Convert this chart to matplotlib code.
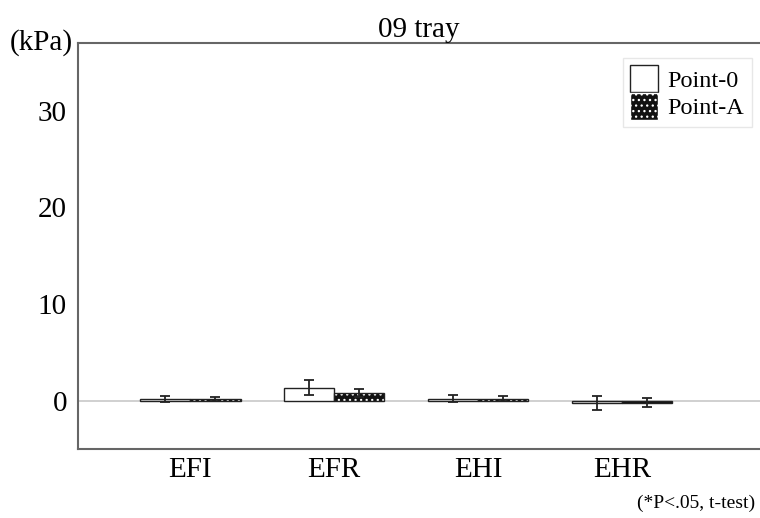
import matplotlib.pyplot as plt
from matplotlib.patches import Patch
import numpy as np

plt.rcParams['font.family'] = ['Liberation Serif', 'DejaVu Serif']
plt.rcParams['hatch.linewidth'] = 0.9

# data (kPa)
categories = ["EFI", "EFR", "EHI", "EHR"]
point0_mean = [0.2, 1.35, 0.2, -0.25]
point0_err = [0.3, 0.75, 0.35, 0.75]
pointA_mean = [0.2, 0.8, 0.2, -0.2]
pointA_err = [0.2, 0.45, 0.25, 0.45]

fig = plt.figure(figsize=(7.6, 5.18), dpi=100)
ax = fig.add_axes([78 / 760, 1 - 449 / 518, 1 - 78 / 760, (449 - 43) / 518])

x = np.arange(len(categories))
w = 0.35

# zero line
ax.axhline(0, color="#c8c8c8", lw=1.2, zorder=1)

# Point-0 : white bars
ax.bar(x - w / 2, point0_mean, w, color="white", edgecolor="#222222", lw=1.0, zorder=2)
ax.errorbar(x - w / 2, point0_mean, yerr=point0_err, fmt="none", ecolor="#222222",
            elinewidth=1.3, capsize=3.5, capthick=1.3, zorder=4)

# Point-A : black bars with white dots
ax.bar(x + w / 2, pointA_mean, w, color="#111111", edgecolor="white", hatch="...", lw=0, zorder=2)
ax.bar(x + w / 2, pointA_mean, w, fill=False, edgecolor="#222222", lw=1.0, zorder=3)
ax.errorbar(x + w / 2, pointA_mean, yerr=pointA_err, fmt="none", ecolor="#222222",
            elinewidth=1.3, capsize=3.5, capthick=1.3, zorder=4)

ax.set_xlim(-0.78, 3.96)
ax.set_ylim(-5, 37)
ax.set_yticks([0, 10, 20, 30])
ax.set_xticks(x)
ax.set_xticklabels(categories)
ax.tick_params(axis="both", length=0, labelsize=21)
ax.tick_params(axis="x", pad=6)
ax.tick_params(axis="y", pad=8)

for s in ["left", "bottom", "top", "right"]:
    ax.spines[s].set_color("#666666")
    ax.spines[s].set_linewidth(1.5)
ax.spines["right"].set_visible(False)

ax.set_title("09 tray", fontsize=21, pad=2)
fig.text(73 / 760, 1 - 43 / 518, "(kPa)", fontsize=21, ha="right", va="center")
fig.text(696 / 760, 1 - 503 / 518, "(*P<.05, t-test)", fontsize=14, ha="center", va="center")

handles = [
    Patch(facecolor="white", edgecolor="#222222", label="Point-0"),
    Patch(facecolor="#111111", edgecolor="white", hatch="...", label="Point-A"),
]
leg = ax.legend(handles=handles, loc="upper right", fontsize=17.5, frameon=True,
                fancybox=False, edgecolor="#e2e2e2", handlelength=1.15, handleheight=1.3,
                handletextpad=0.4, borderpad=0.3, labelspacing=0.05, borderaxespad=0,
                bbox_to_anchor=(0.988, 0.963))

fig.savefig("out.png", dpi=100)
